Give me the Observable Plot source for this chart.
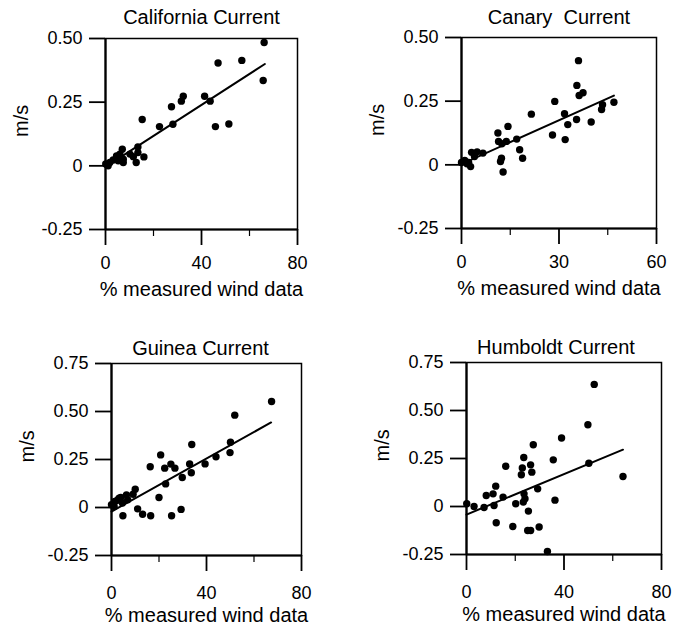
<!DOCTYPE html>
<html>
<head>
<meta charset="utf-8">
<script src="https://cdn.jsdelivr.net/npm/d3@7"></script>
<script src="https://cdn.jsdelivr.net/npm/@observablehq/plot@0.6"></script>
<style>
  html, body { margin: 0; padding: 0; background: #fff; }
  #root { position: relative; width: 676px; height: 630px; overflow: hidden; }
  .panel { position: absolute; }
</style>
</head>
<body>
<div id="root"></div>
<script>
// ---------- data ----------
const titles = ["California Current", "Canary  Current", "Guinea Current", "Humboldt Current"];
const xLabel = "% measured wind data";
const yLabel = "m/s";

const calX = [66.1,56.8,46.9,65.7,32.4,31.6,41.3,43.6,27.5,15.3,22.5,28.1,45.8,51.4,13.5,13.5,16.0,12.8,7.0,6.0,7.4,5.3,3.2,1.8,0.1,1.1,4.6,7.4,10.2,11.6];
const calY = [0.484,0.414,0.404,0.335,0.273,0.254,0.273,0.254,0.232,0.182,0.154,0.163,0.154,0.164,0.074,0.052,0.035,0.013,0.065,0.046,0.026,0.020,0.023,0.013,0.007,0.0,0.039,0.013,0.046,0.036];

const canX = [36.0,35.5,36.2,37.4,28.7,46.9,43.1,43.4,21.5,31.7,32.7,35.4,39.9,28.0,31.9,14.3,11.2,11.4,13.8,17.0,12.4,17.9,18.8,12.3,12.0,12.8,3.1,4.8,6.6,4.0,0,1.0,2.2,2.8,1.7];
const canY = [0.409,0.312,0.272,0.283,0.249,0.246,0.217,0.236,0.199,0.201,0.158,0.178,0.168,0.117,0.099,0.151,0.125,0.092,0.092,0.101,0.083,0.059,0.026,0.026,0.013,-0.028,0.049,0.051,0.046,0.033,0.009,0.017,0.009,-0.007,0.004];

const guiX = [67.4,51.9,33.8,50.1,49.9,44.0,39.4,32.9,33.6,29.8,20.7,16.3,22.4,25.0,26.7,22.8,20.0,29.3,25.3,16.5,13.1,11.0,4.8,10.0,9.1,6.3,3.9,2.5,1.4,0,1.1,3.2,4.6,6.8];
const guiY = [0.552,0.481,0.328,0.340,0.286,0.264,0.227,0.227,0.181,0.156,0.274,0.212,0.205,0.226,0.205,0.123,0.052,-0.010,-0.043,-0.043,-0.035,-0.007,-0.043,0.095,0.069,0.066,0.052,0.038,0.031,0.014,0.005,0.049,0.023,0.040];

const humX = [52.4,49.8,39.0,27.4,35.6,50.2,64.2,16.1,23.5,22.9,26.3,22.5,26.8,12.0,10.9,8.1,15.0,29.2,23.6,24.0,23.3,20.2,36.3,11.3,7.2,3.1,0.1,25.4,12.2,19.0,25.1,26.3,29.8,33.2];
const humY = [0.636,0.426,0.357,0.322,0.243,0.225,0.156,0.210,0.255,0.201,0.217,0.165,0.179,0.106,0.066,0.057,0.049,0.092,0.066,0.040,0.023,0.014,0.033,0.005,-0.005,0.0,0.014,-0.024,-0.085,-0.104,-0.125,-0.125,-0.107,-0.234];

// fitted line end points (x, y) per panel
const fitCalX = [0, 66.4], fitCalY = [-0.004, 0.400];
const fitCanX = [0, 46.9], fitCanY = [0.003, 0.272];
const fitGuiX = [0, 67.2], fitGuiY = [-0.021, 0.443];
const fitHumX = [0, 64.2], fitHumY = [-0.042, 0.296];

// axis domains and ticks
const xDomains = [[0, 80], [0, 60], [0, 80], [0, 80]];
const xMajor = [[0, 40, 80], [0, 30, 60], [0, 40, 80], [0, 40, 80]];
const xMinor = [[20, 60], [15, 45], [20, 60], [20, 60]];
const yDomains = [[-0.25, 0.5], [-0.25, 0.5], [-0.25, 0.75], [-0.25, 0.75]];
const yTicks = [[-0.25, 0, 0.25, 0.5], [-0.25, 0, 0.25, 0.5], [-0.25, 0, 0.25, 0.5, 0.75], [-0.25, 0, 0.25, 0.5, 0.75]];

// ---------- layout (per panel) ----------
const layout = [
  {left: 0,   top: 0,   mL: 105, mR: 41, mT: 38, mB: 86, titleDy: -21, titleDx: 0,  tickPad: 11},
  {left: 338, top: 0,   mL: 123, mR: 20, mT: 37, mB: 87, titleDy: -20, titleDx: 0,  tickPad: 11},
  {left: 0,   top: 315, mL: 111, mR: 37, mT: 48, mB: 75, titleDy: -15, titleDx: -6, tickPad: 15},
  {left: 338, top: 315, mL: 128, mR: 15, mT: 47, mB: 76, titleDy: -15, titleDx: -8, tickPad: 15}
];

const series = [
  {x: calX, y: calY, fx: fitCalX, fy: fitCalY},
  {x: canX, y: canY, fx: fitCanX, fy: fitCanY},
  {x: guiX, y: guiY, fx: fitGuiX, fy: fitGuiY},
  {x: humX, y: humY, fx: fitHumX, fy: fitHumY}
];

const FONT = "'Liberation Sans', Arial, Helvetica, sans-serif";
const yFmt = d => d === 0 ? "0" : d.toFixed(2);

const root = document.getElementById("root");

series.forEach((s, i) => {
  const L = layout[i];
  const pts = s.x.map((v, k) => ({x: v, y: s.y[k]}));
  const fit = s.fx.map((v, k) => ({x: v, y: s.fy[k]}));
  const chart = Plot.plot({
    width: 338,
    height: 315,
    marginLeft: L.mL,
    marginRight: L.mR,
    marginTop: L.mT,
    marginBottom: L.mB,
    style: {fontFamily: FONT, fontSize: "18px", color: "#000", background: "#fff", overflow: "visible"},
    x: {domain: xDomains[i], axis: null},
    y: {domain: yDomains[i], axis: null},
    marks: [
      Plot.frame({stroke: "#000", strokeWidth: 1.5}),
      Plot.axisX({ticks: xMinor[i], tickSize: 7, text: null, label: null, stroke: "#000", strokeWidth: 1.2}),
      Plot.axisX({ticks: xMajor[i], tickSize: 16, tickPadding: L.tickPad, fontSize: 18, label: null, stroke: "#000", strokeWidth: 1.8, tickFormat: d => String(d)}),
      Plot.axisY({ticks: yTicks[i], tickSize: 16, tickPadding: 7, fontSize: 18, label: null, stroke: "#000", strokeWidth: 1.8, tickFormat: yFmt}),
      Plot.ruleX([xDomains[i][0]], {stroke: "#000", strokeWidth: 2.2}),
      Plot.ruleY([yDomains[i][0]], {stroke: "#000", strokeWidth: 2.2}),
      Plot.line(fit, {x: "x", y: "y", stroke: "#000", strokeWidth: 2}),
      Plot.dot(pts, {x: "x", y: "y", r: 3.7, fill: "#000", stroke: "none"}),
      Plot.text([titles[i]], {frameAnchor: "top", dy: L.titleDy, dx: L.titleDx, fontSize: 20, lineAnchor: "middle", fill: "#000"}),
      Plot.text([xLabel], {frameAnchor: "bottom", dy: 52, lineAnchor: "top", fontSize: 20, fill: "#000"}),
      Plot.text([yLabel], {frameAnchor: "left", dx: -84, dy: 3, rotate: -90, fontSize: 20, lineAnchor: "middle", fill: "#000"})
    ]
  });
  const div = document.createElement("div");
  div.className = "panel";
  div.style.left = L.left + "px";
  div.style.top = L.top + "px";
  div.appendChild(chart);
  root.appendChild(div);
});
</script>
</body>
</html>
